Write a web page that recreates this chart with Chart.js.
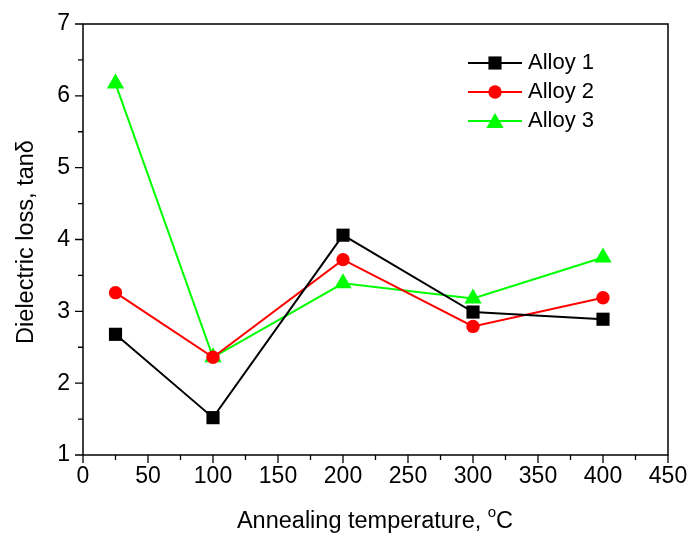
<!DOCTYPE html>
<html>
<head>
<meta charset="utf-8">
<script src="https://cdn.jsdelivr.net/npm/chart.js@4.4.1/dist/chart.umd.min.js"></script>
<style>
  html, body { margin: 0; padding: 0; background: #fff; }
  #wrap { width: 691px; height: 537px; }
</style>
</head>
<body>
<div id="wrap"><canvas id="lossChart" width="691" height="537"></canvas></div>
<script>
// data
const temps = [25, 100, 200, 300, 400];
const alloy1 = [2.68, 1.52, 4.06, 2.99, 2.89];
const alloy2 = [3.26, 2.36, 3.72, 2.79, 3.19];
const alloy3 = [6.17, 2.36, 3.39, 3.18, 3.75];
const seriesNames = ['Alloy 1', 'Alloy 2', 'Alloy 3'];
const xTicks = [0, 50, 100, 150, 200, 250, 300, 350, 400, 450];
const yTicks = [1, 2, 3, 4, 5, 6, 7];

const FONT = 'Liberation Sans, Arial, sans-serif';

function toPoints(vals) {
    return temps.map((t, i) => ({ x: t, y: vals[i] }));
}

// frame, ticks, axis titles and legend
const framePlugin = {
    id: 'frame',
    afterDraw(chart) {
        const { ctx, chartArea: a, scales: { x, y } } = chart;
        ctx.save();
        ctx.strokeStyle = '#000';
        ctx.lineWidth = 1.5;
        ctx.strokeRect(a.left, a.top, a.right - a.left, a.bottom - a.top);

        // x ticks (major every 50, minor every 25), pointing out
        ctx.lineWidth = 1.3;
        ctx.beginPath();
        for (let v = 0; v <= 450; v += 25) {
            const px = x.getPixelForValue(v);
            const len = v % 50 === 0 ? 8 : 5;
            ctx.moveTo(px, a.bottom);
            ctx.lineTo(px, a.bottom + len);
        }
        for (let v = 1; v <= 7; v += 0.5) {
            const py = y.getPixelForValue(v);
            const len = Number.isInteger(v) ? 8 : 5;
            ctx.moveTo(a.left, py);
            ctx.lineTo(a.left - len, py);
        }
        ctx.stroke();

        // axis titles
        ctx.fillStyle = '#000';
        ctx.font = '23.5px ' + FONT;
        ctx.textBaseline = 'middle';
        const main = 'Annealing temperature, ';
        const wMain = ctx.measureText(main).width;
        ctx.font = '15px ' + FONT;
        const wSup = ctx.measureText('o').width;
        ctx.font = '23.5px ' + FONT;
        const wC = ctx.measureText('C').width;
        let tx = 375 - (wMain + wSup + wC) / 2;
        ctx.textAlign = 'left';
        ctx.fillText(main, tx, 522);
        tx += wMain;
        ctx.font = '15px ' + FONT;
        ctx.fillText('o', tx, 513);
        tx += wSup;
        ctx.font = '23.5px ' + FONT;
        ctx.fillText('C', tx, 522);

        ctx.save();
        ctx.translate(27, 242);
        ctx.rotate(-Math.PI / 2);
        ctx.textAlign = 'center';
        ctx.fillText('Dielectric loss, tan\u03b4', 0, 0);
        ctx.restore();

        // legend with line + marker
        chart.data.datasets.forEach((ds, i) => {
            const ly = 63 + 29 * i;
            ctx.strokeStyle = ds.borderColor;
            ctx.lineWidth = 2;
            ctx.beginPath();
            ctx.moveTo(468, ly);
            ctx.lineTo(522, ly);
            ctx.stroke();
            ctx.fillStyle = ds.pointBackgroundColor;
            ctx.strokeStyle = ds.pointBorderColor;
            Chart.helpers.drawPoint(ctx, {
                pointStyle: ds.pointStyle,
                radius: ds.pointRadius,
                rotation: 0,
                borderWidth: 0
            }, 495, ds.pointStyle === 'triangle' ? ly + 2 : ly);
            ctx.fillStyle = '#000';
            ctx.font = '22px ' + FONT;
            ctx.textAlign = 'left';
            ctx.fillText(ds.label, 528, ly);
        });
        ctx.restore();
    }
};

const colors = ['#000000', '#ff0000', '#00ff00'];
const styles = ['rect', 'circle', 'triangle'];
const radii = [9.3, 6.7, 10];
const values = [alloy1, alloy2, alloy3];

const lossChart = new Chart(document.getElementById('lossChart'), {
    type: 'line',
    data: {
        datasets: values.map((vals, i) => ({
            label: seriesNames[i],
            data: toPoints(vals),
            borderColor: colors[i],
            backgroundColor: colors[i],
            pointBackgroundColor: colors[i],
            pointBorderColor: colors[i],
            pointBorderWidth: 0,
            pointStyle: styles[i],
            pointRadius: radii[i],
            borderWidth: 2,
            tension: 0,
            clip: false
        }))
    },
    options: {
        responsive: false,
        animation: false,
        layout: { padding: { top: 24, right: 23, left: 0, bottom: 0 } },
        plugins: {
            legend: { display: false },
            tooltip: { enabled: false }
        },
        scales: {
            x: {
                type: 'linear',
                min: 0,
                max: 450,
                afterBuildTicks: s => { s.ticks = xTicks.map(v => ({ value: v })); },
                afterFit: s => { s.height = 82; },
                grid: { display: false },
                border: { display: false },
                ticks: {
                    color: '#000',
                    font: { family: FONT, size: 23 },
                    padding: 0,
                    maxRotation: 0,
                    autoSkip: false
                }
            },
            y: {
                type: 'linear',
                min: 1,
                max: 7,
                afterBuildTicks: s => { s.ticks = yTicks.map(v => ({ value: v })); },
                afterFit: s => { s.width = 83; },
                grid: { display: false },
                border: { display: false },
                ticks: {
                    color: '#000',
                    font: { family: FONT, size: 23 },
                    padding: 5,
                    autoSkip: false
                }
            }
        }
    },
    plugins: [framePlugin]
});
</script>
</body>
</html>
